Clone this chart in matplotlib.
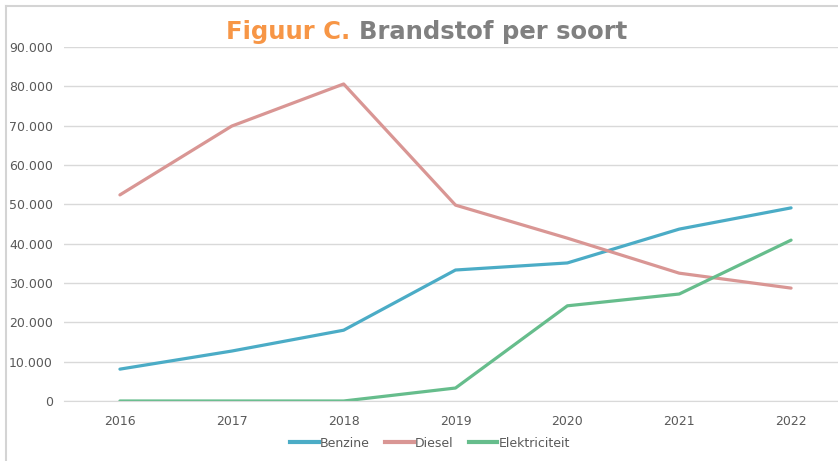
import matplotlib
matplotlib.use("Agg")
from matplotlib import pyplot as plt
from matplotlib.lines import Line2D
from matplotlib.ticker import FuncFormatter

years = ["2016", "2017", "2018", "2019", "2020", "2021", "2022"]
benzine = [8100, 12700, 18000, 33300, 35100, 43700, 49100]
diesel = [52400, 69900, 80600, 49800, 41400, 32500, 28700]
elektriciteit = [0, 0, 0, 3300, 24200, 27200, 40900]

series = [
    ("Benzine", benzine, "#4bacc6"),
    ("Diesel", diesel, "#d99694"),
    ("Elektriciteit", elektriciteit, "#66bd8c"),
]

W, H = 838, 461
fig = plt.figure(figsize=(W / 100, H / 100), dpi=100)
fig.patch.set_facecolor("white")

# axes spans a bit past the right edge, like the cropped original
ax = fig.add_axes([64 / W, (H - 401) / H, (847 - 64) / W, (401 - 47) / H])

x = list(range(len(years)))
for name, vals, col in series:
    ax.plot(x, vals, color=col, linewidth=2.3, label=name, solid_capstyle="round")

ax.set_xlim(-0.5, len(years) - 0.5)
ax.set_ylim(0, 90000)
ax.set_yticks(range(0, 90001, 10000))
ax.yaxis.set_major_formatter(FuncFormatter(lambda v, p: f"{int(v):,}".replace(",", ".")))
ax.set_xticks(x)
ax.set_xticklabels(years)
ax.grid(axis="y", color="#d9d9d9", linewidth=1)
ax.set_axisbelow(True)
for s in ["top", "right", "left"]:
    ax.spines[s].set_visible(False)
ax.spines["bottom"].set_color("#d9d9d9")
ax.tick_params(axis="both", length=0, labelsize=9, labelcolor="#595959", pad=8)
ax.tick_params(axis="x", pad=10)

# title in two colours, centred as one piece around x=427px
ty = 1 - 32 / H
t1 = fig.text(0, ty, "Figuur C. ", color="#f79646", fontsize=17.5,
              fontweight="bold", ha="left", va="center")
t2 = fig.text(0, ty, "Brandstof per soort", color="#808080", fontsize=17.5,
              fontweight="bold", ha="left", va="center")
r = fig.canvas.get_renderer()
w1 = t1.get_window_extent(r).width
w2 = t2.get_window_extent(r).width
x0 = 427 - (w1 + w2) / 2
t1.set_x(x0 / W)
t2.set_x((x0 + w1) / W)

handles = [Line2D([0], [0], color=c, linewidth=3) for _, _, c in series]
fig.legend(handles, [n for n, _, _ in series], loc="center",
           bbox_to_anchor=(430 / W, 1 - 443 / H), ncol=3, frameon=False,
           fontsize=9, labelcolor="#595959", handlelength=2.3,
           handletextpad=0.1, columnspacing=1.2)

# border lines of the original picture frame
fig.add_artist(Line2D([5.5 / W, 1], [1 - 6.5 / H, 1 - 6.5 / H], color="#d4d4d4", linewidth=1.5))
fig.add_artist(Line2D([5.5 / W, 5.5 / W], [0, 1 - 6.5 / H], color="#d4d4d4", linewidth=1.5))

fig.savefig("out.png", dpi=100)
